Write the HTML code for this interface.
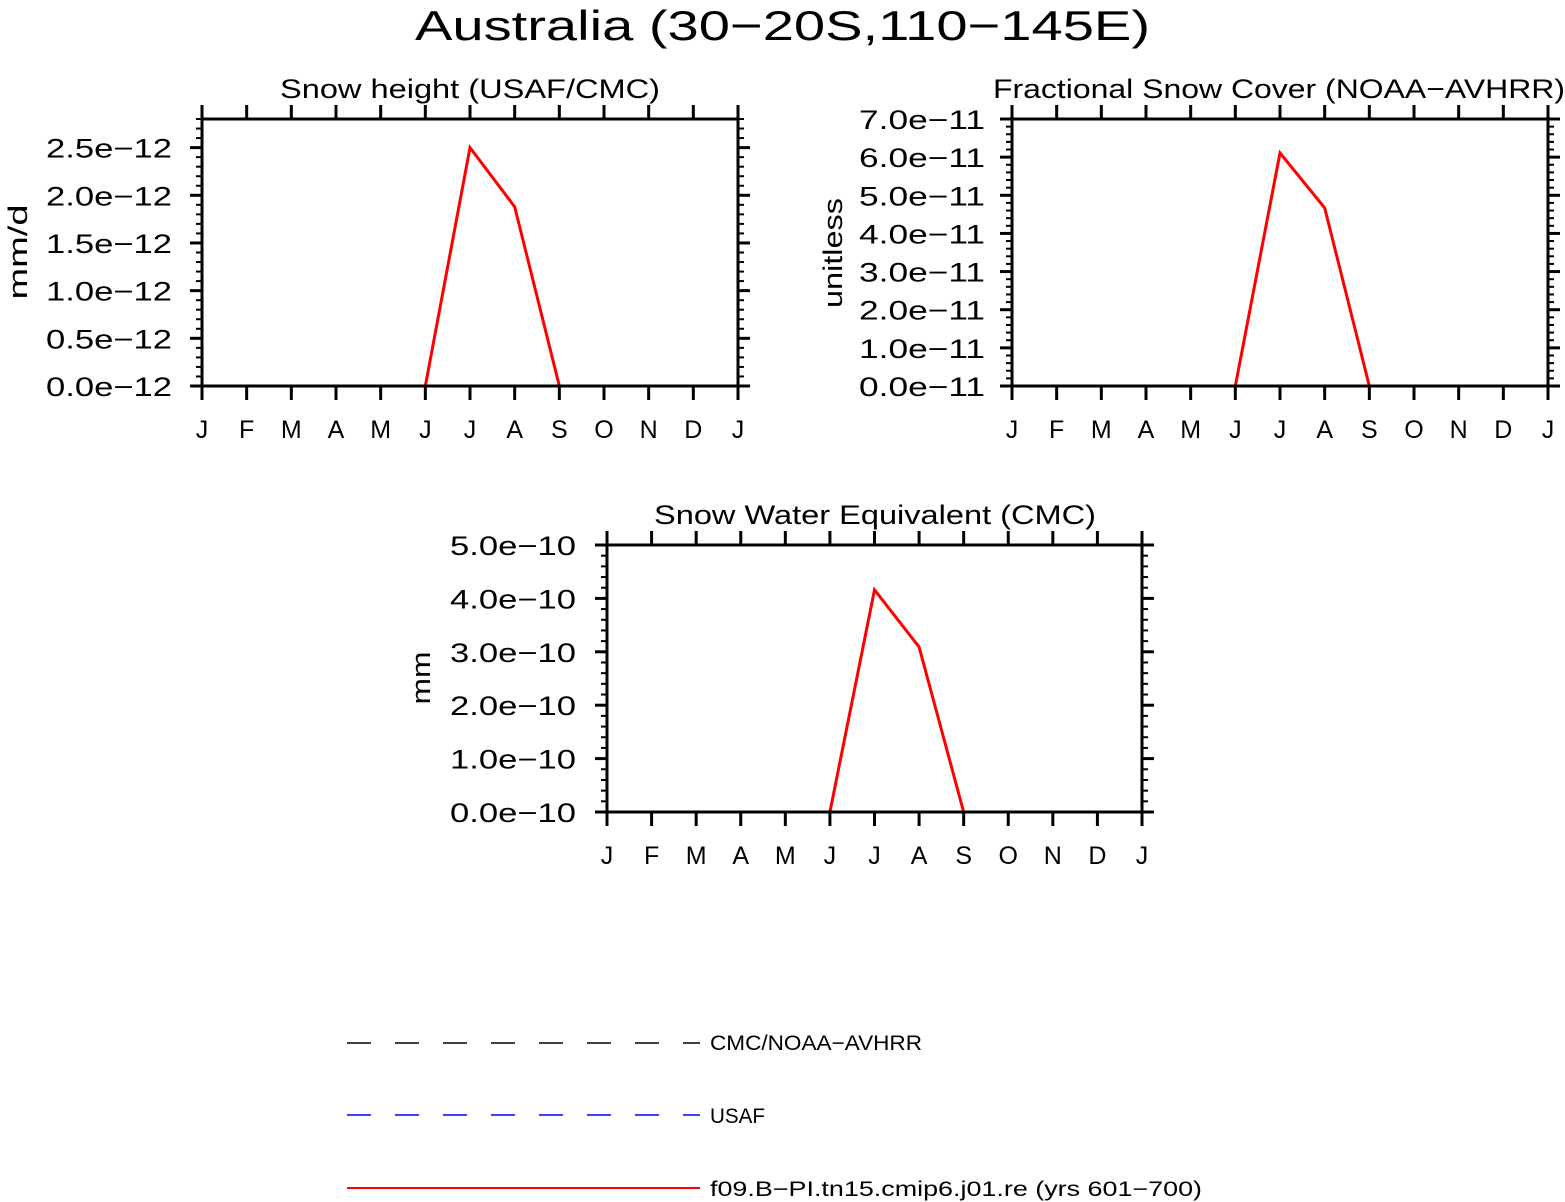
<!DOCTYPE html>
<html><head><meta charset="utf-8"><style>
html,body{margin:0;padding:0;background:#fff;}
svg{display:block;font-family:"Liberation Sans",sans-serif;}
</style></head><body>
<svg id="fig" width="1565" height="1202" viewBox="0 0 1565 1202">
<text x="415" y="40" font-size="42" textLength="735" lengthAdjust="spacingAndGlyphs">Australia (30−20S,110−145E)</text>
<g id="legend">
<g><line x1="347" y1="1043" x2="700" y2="1043" stroke="#000" stroke-width="1.5" stroke-dasharray="24,24"/><text x="710" y="1050" font-size="21" textLength="212" lengthAdjust="spacingAndGlyphs">CMC/NOAA−AVHRR</text></g>
<g><line x1="347" y1="1115" x2="700" y2="1115" stroke="#00f" stroke-width="1.5" stroke-dasharray="24,24"/><text x="710" y="1123" font-size="21" textLength="55" lengthAdjust="spacingAndGlyphs">USAF</text></g>
<g><line x1="347" y1="1188" x2="700" y2="1188" stroke="#f00" stroke-width="2"/><text x="710" y="1196" font-size="21" textLength="492" lengthAdjust="spacingAndGlyphs">f09.B−PI.tn15.cmip6.j01.re (yrs 601−700)</text></g>
</g>
</svg>
<script>
const months = ["J","F","M","A","M","J","J","A","S","O","N","D","J"];
const snowHeight = [0,0,0,0,0,0,2.5,1.88,0,0,0,0,0];
const snowCover = [0,0,0,0,0,0,6.11,4.67,0,0,0,0,0];
const snowSWE = [0,0,0,0,0,0,4.16,3.09,0,0,0,0,0];
const obsZero = [0,0,0,0,0,0,0,0,0,0,0,0,0];
const ticks1 = ["0.0e−12","0.5e−12","1.0e−12","1.5e−12","2.0e−12","2.5e−12"];
const ticks2 = ["0.0e−11","1.0e−11","2.0e−11","3.0e−11","4.0e−11","5.0e−11","6.0e−11","7.0e−11"];
const ticks3 = ["0.0e−10","1.0e−10","2.0e−10","3.0e−10","4.0e−10","5.0e−10"];

const NS="http://www.w3.org/2000/svg";
const svg=document.getElementById('fig');
function mk(tag,attrs,parent){const e=document.createElementNS(NS,tag);for(const k in attrs)e.setAttribute(k,attrs[k]);parent.appendChild(e);return e;}

function panel(cfg){
  const g=mk('g',{},svg);
  
  
  const {x0,x1,y0,y1,ymax,major,minor}=cfg;
  const sx=i=>x0+(x1-x0)*i/12;
  const sy=v=>y1-(y1-y0)*v/ymax;
  const z=mk('polyline',{points:cfg.obs.map((v,i)=>sx(i)+','+sy(v)).join(' '),fill:'none',stroke:'#000','stroke-width':1.5,'stroke-dasharray':'8,8'},g);
  
  
  const l=mk('polyline',{points:cfg.data.map((v,i)=>sx(i)+','+sy(v)).join(' '),fill:'none',stroke:'#f00','stroke-width':3,'stroke-linejoin':'miter'},g);
  
  
  const r=mk('rect',{x:x0,y:y0,width:x1-x0,height:y1-y0,fill:'none',stroke:'#000','stroke-width':3},g);
  
  
  months.forEach((m,i)=>{
    const x=sx(i);
    mk('line',{x1:x,x2:x,y1:y1,y2:y1+14,stroke:'#000','stroke-width':3},g);
    mk('line',{x1:x,x2:x,y1:y0,y2:y0-14,stroke:'#000','stroke-width':3},g);
    const t=mk('text',{x:x,y:y1+52,'font-size':25,'text-anchor':'middle'},g);
    t.textContent=m;
    
    
  });
  for(let v=0;v<=ymax+1e-9;v+=minor){
    const y=sy(v);
    mk('line',{x1:x0,x2:x0-6,y1:y,y2:y,stroke:'#000','stroke-width':2},g);
    mk('line',{x1:x1,x2:x1+6,y1:y,y2:y,stroke:'#000','stroke-width':2},g);
  }
  cfg.ticks.forEach((lab,i)=>{
    const y=sy(i*major);
    mk('line',{x1:x0,x2:x0-12,y1:y,y2:y,stroke:'#000','stroke-width':3},g);
    mk('line',{x1:x1,x2:x1+12,y1:y,y2:y,stroke:'#000','stroke-width':3},g);
    const t=mk('text',{x:x0-cfg.lo-126,y:y+10,'font-size':27,textLength:126,lengthAdjust:'spacingAndGlyphs'},g);
    t.textContent=lab;
    
    
  });
  const tt=mk('text',{x:cfg.tx,y:y0-21,'font-size':27,textLength:cfg.tw,lengthAdjust:'spacingAndGlyphs'},g);
  tt.textContent=cfg.title;
  
  
  const yt=mk('text',{x:-cfg.yw/2,y:0,'font-size':27,textLength:cfg.yw,lengthAdjust:'spacingAndGlyphs',transform:`translate(${cfg.ylx},${cfg.ylc}) rotate(-90)`},g);
  yt.textContent=cfg.ylabel;
  
  
}
panel({name:'snow-height-panel',x0:202,x1:738,y0:119,y1:386,ymax:2.8,major:0.5,minor:0.1,ticks:ticks1,data:snowHeight,obs:obsZero,title:'Snow height (USAF/CMC)',tx:280,tw:380,ylabel:'mm/d',ylx:27,ylc:252,yw:95,lo:30});
panel({name:'snow-cover-panel',x0:1012,x1:1548,y0:119,y1:386,ymax:7,major:1,minor:0.2,ticks:ticks2,data:snowCover,obs:obsZero,title:'Fractional Snow Cover (NOAA−AVHRR)',tx:993,tw:572,ylabel:'unitless',ylx:842,ylc:253,yw:110,lo:27});
panel({name:'swe-panel',x0:607,x1:1142,y0:545,y1:812,ymax:5,major:1,minor:0.2,ticks:ticks3,data:snowSWE,obs:obsZero,title:'Snow Water Equivalent (CMC)',tx:654,tw:442,ylabel:'mm',ylx:430,ylc:678,yw:53,lo:31});
</script>
</body></html>
